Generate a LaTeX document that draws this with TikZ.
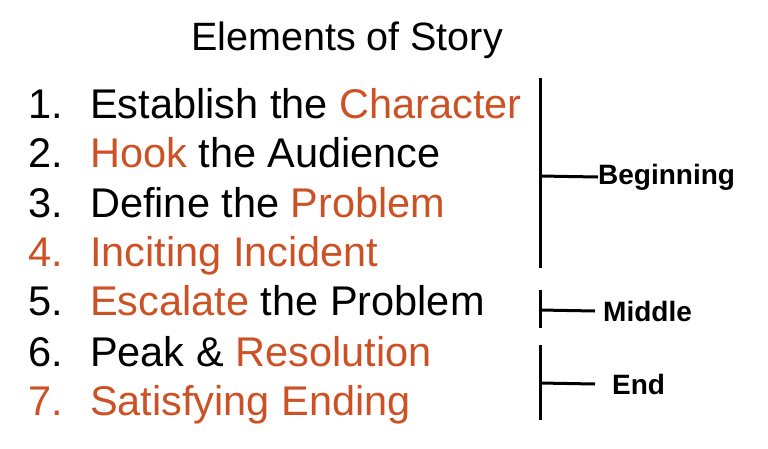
\documentclass[tikz,border=0pt]{standalone}
\usepackage{fontspec}
\setmainfont{Liberation Sans}
\definecolor{storyred}{RGB}{204,82,38}
\begin{document}
\begin{tikzpicture}[x=1pt,y=-1pt]
\tikzset{item/.style={anchor=base west,inner sep=0pt,font=\fontsize{41.5}{44}\selectfont},
         part/.style={anchor=west,inner sep=0pt,font=\fontsize{28}{30}\selectfont\bfseries},
         brace/.style={line width=3pt}}
\newcommand{\hl}[1]{\textcolor{storyred}{#1}}
\newcommand{\num}[1]{\makebox[62pt][l]{#1}}
\useasboundingbox (0,0) rectangle (768,448);
\node[item,anchor=base,font=\fontsize{39.5}{42}\selectfont] (title) at (347,50) {Elements of Story};
% numbered list
\node[item] (n1) at (28,118) {\num{1.}Establish the \hl{Character}};
\node[item] (n2) at (28,167) {\num{2.}\hl{Hook} the Audience};
\node[item] (n3) at (28,217) {\num{3.}Define the \hl{Problem}};
\node[item] (n4) at (28,266) {\hl{\num{4.}Inciting Incident}};
\node[item] (n5) at (28,315) {\num{5.}\hl{Escalate} the Problem};
\node[item] (n6) at (28,366) {\num{6.}Peak \& \hl{Resolution}};
\node[item] (n7) at (28,415) {\hl{\num{7.}Satisfying Ending}};
% brackets
\coordinate (b1) at (540,78);  \coordinate (b2) at (540,268);
\coordinate (m1) at (540,290); \coordinate (m2) at (540,328);
\coordinate (e1) at (540,345); \coordinate (e2) at (540,420);
\node[part] (beg) at (598,177) {Beginning};
\node[part] (mid) at (603,311) {Middle};
\node[part] (end) at (612,384) {End};
\draw[brace] (b1) -- (b2);
\draw[brace] (m1) -- (m2);
\draw[brace] (e1) -- (e2);
\draw[brace] (540,176) -- (beg.west);
\draw[brace] (540,310) -- ([xshift=-8pt]mid.west);
\draw[brace] (540,383) -- ([xshift=-17pt]end.west);
\end{tikzpicture}
\end{document}
